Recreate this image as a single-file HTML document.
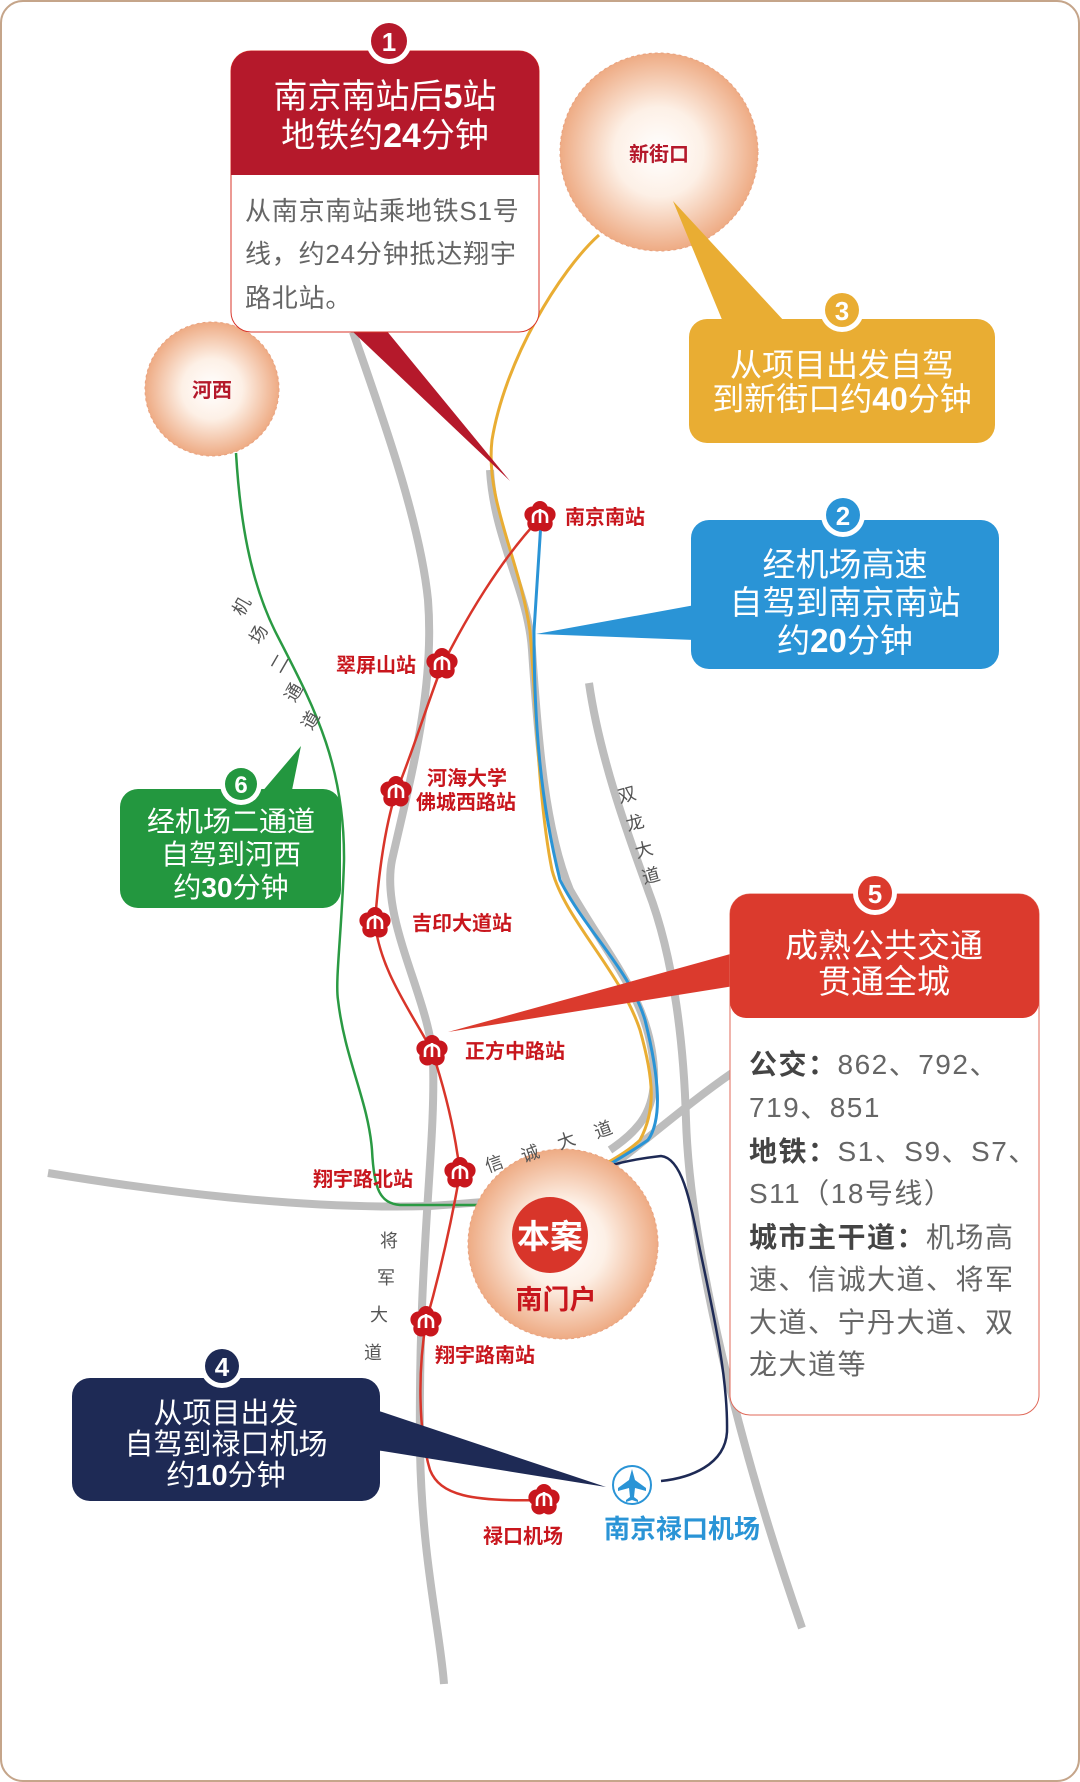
<!DOCTYPE html>
<html><head><meta charset="utf-8"><style>
html,body{margin:0;padding:0;background:#fff;}
svg{display:block;}
text{font-family:"Liberation Sans","Noto Sans CJK SC",sans-serif;}
</style></head><body>
<svg width="1080" height="1782" viewBox="0 0 1080 1782" xmlns="http://www.w3.org/2000/svg">
<defs>
<radialGradient id="rg" cx="50%" cy="50%" r="50%">
<stop offset="0" stop-color="#fff"/><stop offset="0.45" stop-color="#fdf0e6"/><stop offset="1" stop-color="#eeab84"/>
</radialGradient>
<g id="st">
<circle cx="0" cy="-8" r="8" fill="#c8161d"/><circle cx="7.6" cy="-2.5" r="8" fill="#c8161d"/><circle cx="4.7" cy="6.5" r="8" fill="#c8161d"/><circle cx="-4.7" cy="6.5" r="8" fill="#c8161d"/><circle cx="-7.6" cy="-2.5" r="8" fill="#c8161d"/>
<circle r="9" fill="#c8161d"/>
<path d="M-7,6 V0 A7,6 0 0 1 7,0 V6 M0,-8 V6" stroke="#fff" stroke-width="2.6" fill="none"/>
</g>
</defs>
<rect x="1" y="1" width="1078" height="1780" rx="22" fill="#fff" stroke="#c5a58a" stroke-width="2"/>

<g fill="none" stroke="#bdbdbd" stroke-width="8" stroke-linecap="butt">
<path d="M353,332 C380,410 420,520 428,600 C435,690 410,780 392,860 C380,920 430,1000 433,1060 C436,1150 418,1250 420,1450 C422,1560 440,1630 444,1684"/>
<path d="M589,683 C600,760 630,840 648,890 C675,960 684,1050 686,1120 C690,1250 740,1450 802,1628"/>
<path d="M48,1173 C150,1190 300,1210 430,1206 C520,1200 570,1195 620,1160 C670,1120 700,1095 732,1073"/>
<path d="M490,470 C494,540 528,590 532,650 C538,740 545,830 570,890 C610,960 650,1000 654,1070 C656,1110 640,1130 610,1150"/>
</g>

<path d="M236,453 C240,520 250,580 275,631 C310,700 345,760 344,861 C342,930 335,980 338,1000 C345,1060 368,1100 372,1150 C374,1190 380,1203 400,1205 L551,1205" fill="none" stroke="#2a9a43" stroke-width="2.5"/>
<path d="M599,235 C560,270 505,360 492,440 C485,500 520,560 530,631 C536,700 538,800 552,870 C565,920 620,970 640,1030 C654,1080 656,1110 640,1140 C620,1160 570,1180 548,1200 C545,1206 544,1212 544,1220" fill="none" stroke="#e9ad33" stroke-width="3"/>
<path d="M541,522 L534,631 C534,720 540,800 560,880 C585,930 630,970 645,1020 C660,1080 662,1120 648,1140 C620,1160 580,1180 566,1192 L558,1202" fill="none" stroke="#2a94d6" stroke-width="3"/>
<path d="M565,1198 C580,1175 600,1163 661,1156 C682,1158 690,1200 700,1250 C715,1320 728,1380 727,1432 C725,1465 690,1478 661,1481" fill="none" stroke="#1e2a55" stroke-width="2.5"/>
<path d="M541,517 C500,560 465,620 442,666 C425,710 410,760 396,792 C384,830 378,880 375,923 C380,970 410,1010 432,1051 C445,1090 455,1130 460,1173 C450,1230 438,1280 426,1322 C418,1370 418,1430 430,1470 C440,1495 470,1502 544,1500" fill="none" stroke="#d8352a" stroke-width="2.5"/>

<circle cx="659" cy="152" r="99" fill="url(#rg)" stroke="#e9a27f" stroke-dasharray="3 3"/>
<text x="659" y="161" font-size="20" font-weight="bold" fill="#b5192b" text-anchor="middle">新街口</text>
<circle cx="212" cy="389" r="67" fill="url(#rg)" stroke="#e9a27f" stroke-dasharray="3 3"/>
<text x="212" y="397" font-size="20" font-weight="bold" fill="#b5192b" text-anchor="middle">河西</text>
<circle cx="563" cy="1244" r="95" fill="url(#rg)" stroke="#e9a27f" stroke-dasharray="3 3"/>
<circle cx="550" cy="1235" r="38" fill="#d8352a"/>
<text x="550" y="1248" font-size="33" font-weight="bold" fill="#fff" text-anchor="middle">本案</text>
<text x="556" y="1309" font-size="27" font-weight="bold" fill="#c8161d" text-anchor="middle">南门户</text>

<use href="#st" x="540" y="517"/>
<text x="565" y="524" font-size="20" font-weight="bold" fill="#c8161d">南京南站</text>
<use href="#st" x="442" y="664"/>
<text x="416" y="672" font-size="20" font-weight="bold" fill="#c8161d" text-anchor="end">翠屏山站</text>
<use href="#st" x="396" y="792"/>
<text x="427" y="785" font-size="20" font-weight="bold" fill="#c8161d">河海大学</text>
<text x="416" y="809" font-size="20" font-weight="bold" fill="#c8161d">佛城西路站</text>
<use href="#st" x="375" y="923"/>
<text x="412" y="930" font-size="20" font-weight="bold" fill="#c8161d">吉印大道站</text>
<use href="#st" x="432" y="1051"/>
<text x="465" y="1058" font-size="20" font-weight="bold" fill="#c8161d">正方中路站</text>
<use href="#st" x="460" y="1173"/>
<text x="413" y="1186" font-size="20" font-weight="bold" fill="#c8161d" text-anchor="end">翔宇路北站</text>
<use href="#st" x="426" y="1322"/>
<text x="435" y="1362" font-size="20" font-weight="bold" fill="#c8161d">翔宇路南站</text>
<use href="#st" x="544" y="1500"/>
<text x="523" y="1543" font-size="20" font-weight="bold" fill="#c8161d" text-anchor="middle">禄口机场</text>

<circle cx="632" cy="1485" r="19" fill="#fff" stroke="#2a94d6" stroke-width="2"/>
<path d="M632,1469 L635,1480 L646,1488 L646,1491 L635,1488 L634,1497 L638,1500 L638,1502 L632,1500 L626,1502 L626,1500 L630,1497 L629,1488 L618,1491 L618,1488 L629,1480 Z" fill="#2a94d6"/>
<text x="682" y="1538" font-size="26" font-weight="bold" fill="#2a94d6" text-anchor="middle">南京禄口机场</text>

<g font-size="18" fill="#555" text-anchor="middle">
<text x="494" y="1170" transform="rotate(-20 494 1163)">信</text>
<text x="530" y="1160" transform="rotate(-20 530 1153)">诚</text>
<text x="566" y="1147" transform="rotate(-20 566 1140)">大</text>
<text x="603" y="1136" transform="rotate(-20 603 1129)">道</text>
<text x="389" y="1247">将</text><text x="386" y="1284">军</text><text x="379" y="1321">大</text><text x="373" y="1359">道</text>
<text x="627" y="801" transform="rotate(-15 627 795)">双</text><text x="635" y="829" transform="rotate(-15 635 823)">龙</text><text x="644" y="856" transform="rotate(-15 644 850)">大</text><text x="651" y="882" transform="rotate(-15 651 876)">道</text>
<text x="241" y="613" transform="rotate(-60 241 606)">机</text>
<text x="258" y="641" transform="rotate(-60 258 634)">场</text>
<text x="279" y="670" transform="rotate(-60 279 663)">二</text>
<text x="293" y="699" transform="rotate(-60 293 692)">通</text>
<text x="310" y="727" transform="rotate(-60 310 720)">道</text>
</g>

<polygon points="351,330 386,330 510,481" fill="#b5192b"/>
<rect x="231" y="51" width="308" height="281" rx="20" fill="#fff" stroke="#d8352a" stroke-width="1"/>
<path d="M251,51 H519 A20,20 0 0 1 539,71 V175 H231 V71 A20,20 0 0 1 251,51 Z" fill="#b5192b"/>
<circle cx="389" cy="41" r="23" fill="#fff"/><circle cx="389" cy="41" r="18" fill="#b5192b"/>
<text x="389" y="51" font-size="26" font-weight="bold" fill="#fff" text-anchor="middle">1</text>
<text x="385" y="108" font-size="34" fill="#fff" text-anchor="middle">南京南站后<tspan font-weight="bold">5</tspan>站</text>
<text x="385" y="147" font-size="34" fill="#fff" text-anchor="middle">地铁约<tspan font-weight="bold">24</tspan>分钟</text>
<g font-size="26" fill="#666" letter-spacing="0.8"><text x="245" y="220">从南京南站乘地铁S1号</text><text x="245" y="263">线，约24分钟抵达翔宇</text><text x="245" y="307">路北站。</text></g>

<polygon points="673,201 723,322 785,322" fill="#e9ad33"/>
<rect x="689" y="319" width="306" height="124" rx="18" fill="#e9ad33"/>
<circle cx="842" cy="310" r="22" fill="#fff"/><circle cx="842" cy="310" r="17" fill="#e9ad33"/>
<text x="842" y="320" font-size="26" font-weight="bold" fill="#fff" text-anchor="middle">3</text>
<text x="842" y="376" font-size="32" fill="#fff" text-anchor="middle">从项目出发自驾</text>
<text x="842" y="410" font-size="32" fill="#fff" text-anchor="middle">到新街口约<tspan font-weight="bold">40</tspan>分钟</text>

<polygon points="536,634 695,605 695,640" fill="#2a94d6"/>
<rect x="691" y="520" width="308" height="149" rx="18" fill="#2a94d6"/>
<circle cx="843" cy="515" r="22" fill="#fff"/><circle cx="843" cy="515" r="17" fill="#2a94d6"/>
<text x="843" y="525" font-size="26" font-weight="bold" fill="#fff" text-anchor="middle">2</text>
<text x="845" y="576" font-size="33" fill="#fff" text-anchor="middle">经机场高速</text>
<text x="845" y="614" font-size="33" fill="#fff" text-anchor="middle">自驾到南京南站</text>
<text x="845" y="652" font-size="33" fill="#fff" text-anchor="middle">约<tspan font-weight="bold">20</tspan>分钟</text>

<polygon points="301,746 255,800 290,800" fill="#23973f"/>
<rect x="120" y="789" width="221" height="119" rx="18" fill="#23973f"/>
<circle cx="241" cy="784" r="21" fill="#fff"/><circle cx="241" cy="784" r="16" fill="#23973f"/>
<text x="241" y="793" font-size="24" font-weight="bold" fill="#fff" text-anchor="middle">6</text>
<text x="231" y="831" font-size="28" fill="#fff" text-anchor="middle">经机场二通道</text>
<text x="231" y="864" font-size="28" fill="#fff" text-anchor="middle">自驾到河西</text>
<text x="231" y="897" font-size="28" fill="#fff" text-anchor="middle">约<tspan font-weight="bold">30</tspan>分钟</text>

<polygon points="448,1032 734,953 734,986" fill="#db3a2d"/>
<rect x="730" y="894" width="309" height="521" rx="20" fill="#fff" stroke="#e06a5a" stroke-width="1"/>
<path d="M750,894 H1019 A20,20 0 0 1 1039,914 V1002 A16,16 0 0 1 1023,1018 H746 A16,16 0 0 1 730,1002 V914 A20,20 0 0 1 750,894 Z" fill="#db3a2d"/>
<circle cx="875" cy="893" r="22" fill="#fff"/><circle cx="875" cy="893" r="17" fill="#db3a2d"/>
<text x="875" y="903" font-size="26" font-weight="bold" fill="#fff" text-anchor="middle">5</text>
<text x="884" y="957" font-size="33" fill="#fff" text-anchor="middle">成熟公共交通</text>
<text x="884" y="993" font-size="33" fill="#fff" text-anchor="middle">贯通全城</text>
<g font-size="28" fill="#666" letter-spacing="1.5">
<text x="749" y="1074"><tspan font-weight="bold" fill="#444">公交：</tspan>862、792、</text>
<text x="749" y="1117">719、851</text>
<text x="749" y="1161"><tspan font-weight="bold" fill="#444">地铁：</tspan>S1、S9、S7、</text>
<text x="749" y="1203">S11（18号线）</text>
<text x="749" y="1247"><tspan font-weight="bold" fill="#444">城市主干道：</tspan>机场高</text>
<text x="749" y="1289">速、信诚大道、将军</text>
<text x="749" y="1332">大道、宁丹大道、双</text>
<text x="749" y="1374">龙大道等</text>
</g>

<polygon points="606,1487 376,1410 376,1450" fill="#1e2a55"/>
<rect x="72" y="1378" width="308" height="123" rx="18" fill="#1e2a55"/>
<circle cx="222" cy="1366" r="22" fill="#fff"/><circle cx="222" cy="1366" r="17" fill="#1e2a55"/>
<text x="222" y="1376" font-size="26" font-weight="bold" fill="#fff" text-anchor="middle">4</text>
<text x="226" y="1423" font-size="29" fill="#fff" text-anchor="middle">从项目出发</text>
<text x="226" y="1454" font-size="29" fill="#fff" text-anchor="middle">自驾到禄口机场</text>
<text x="226" y="1485" font-size="29" fill="#fff" text-anchor="middle">约<tspan font-weight="bold">10</tspan>分钟</text>
</svg>
</body></html>
